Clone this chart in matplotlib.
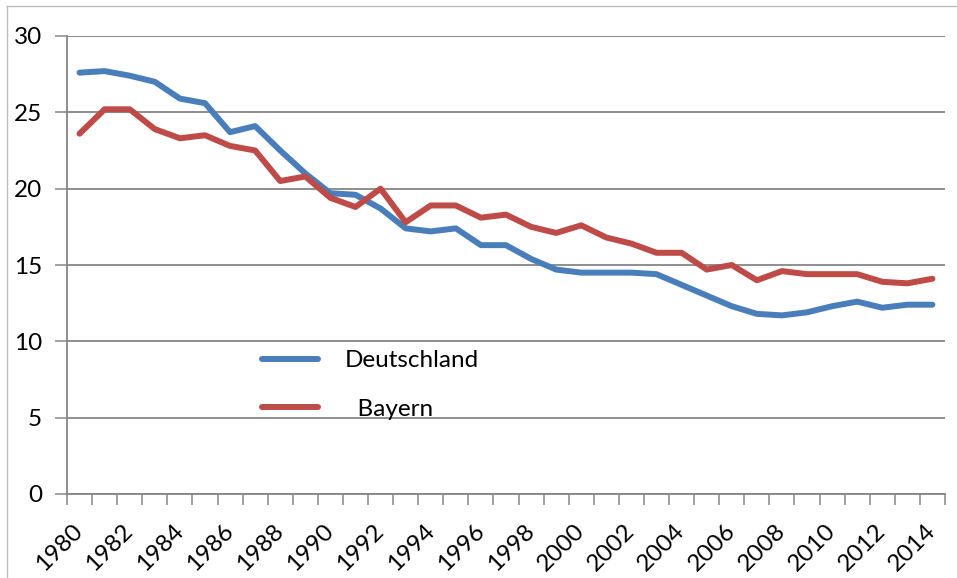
import matplotlib
matplotlib.use("Agg")
import matplotlib.pyplot as plt
from matplotlib.lines import Line2D
import numpy as np

plt.rcParams['font.family'] = ['Lato', 'DejaVu Sans']

# data
years = list(range(1980, 2015))
deutschland = [27.6, 27.7, 27.4, 27.0, 25.9, 25.6, 23.7, 24.1, 22.5, 21.0,
               19.7, 19.6, 18.7, 17.4, 17.2, 17.4, 16.3, 16.3, 15.4, 14.7,
               14.5, 14.5, 14.5, 14.4, 13.7, 13.0, 12.3, 11.8, 11.7, 11.9,
               12.3, 12.6, 12.2, 12.4, 12.4]
bayern = [23.6, 25.2, 25.2, 23.9, 23.3, 23.5, 22.8, 22.5, 20.5, 20.8,
          19.4, 18.8, 20.0, 17.8, 18.9, 18.9, 18.1, 18.3, 17.5, 17.1,
          17.6, 16.8, 16.4, 15.8, 15.8, 14.7, 15.0, 14.0, 14.6, 14.4,
          14.4, 14.4, 13.9, 13.8, 14.1]
y_ticks = [0, 5, 10, 15, 20, 25, 30]

blue = '#4A7EBB'
red = '#BE4B48'
grey = '#868686'

fig = plt.figure(figsize=(9.57, 5.78), dpi=100)
ax = fig.add_axes([67/957, 1 - 494/578, (945 - 67)/957, (494 - 36)/578])

x = np.arange(len(years))
ax.plot(x, deutschland, color=blue, lw=4.3, solid_capstyle='round',
        solid_joinstyle='round', label='Deutschland')
ax.plot(x, bayern, color=red, lw=4.3, solid_capstyle='round',
        solid_joinstyle='round', label='  Bayern')

ax.set_xlim(-0.5, len(years) - 0.5)
ax.set_ylim(0, 30)

# y axis
ax.set_yticks(y_ticks)
ax.set_yticklabels([str(v) for v in y_ticks])
ax.yaxis.grid(True, color=grey, lw=1.3)
ax.set_axisbelow(True)

# x axis: labels every 2nd year, ticks between categories
ax.set_xticks(x[::2])
ax.set_xticklabels([str(y) for y in years[::2]], rotation=45, ha='right',
                   va='center', rotation_mode='anchor')
ax.set_xticks(np.arange(-0.5, len(years), 1), minor=True)
ax.tick_params(axis='x', which='major', length=0, pad=24, labelsize=17.5)
ax.tick_params(axis='x', which='minor', length=8, width=1.1, color=grey, direction='out')
ax.tick_params(axis='y', length=9, width=1.1, color=grey, pad=9, labelsize=17.5)

for side in ['top', 'right']:
    ax.spines[side].set_visible(False)
for side in ['left', 'bottom']:
    ax.spines[side].set_color(grey)
    ax.spines[side].set_linewidth(1.3)

leg = ax.legend(loc='upper left', bbox_to_anchor=(262/957, 1 - 350/578),
                bbox_transform=fig.transFigure, frameon=False, fontsize=17.5,
                handlelength=2.3, handletextpad=1.1, labelspacing=1.15,
                borderpad=0, borderaxespad=0)

# outer chart border (partly cropped in the original)
fig.add_artist(Line2D([7/957, 1], [1 - 6/578, 1 - 6/578], transform=fig.transFigure,
                      color='#BFBFBF', lw=1))
fig.add_artist(Line2D([7/957, 7/957], [0, 1 - 6/578], transform=fig.transFigure,
                      color='#BFBFBF', lw=1))

fig.savefig('out.png', dpi=100)
